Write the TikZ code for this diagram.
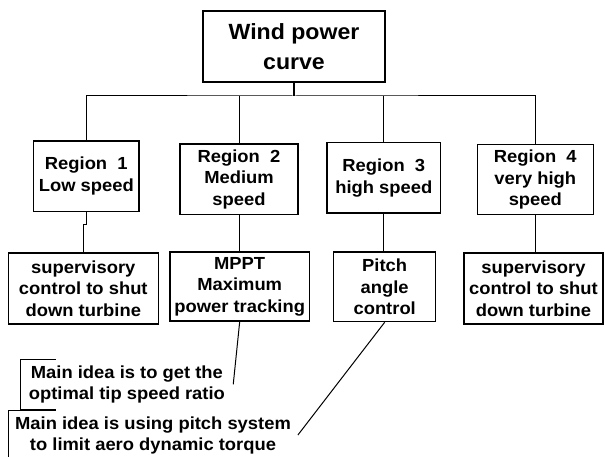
\documentclass[tikz,border=0pt]{standalone}
\usepackage{fontspec}
\setmainfont{Liberation Sans}[FakeStretch=1.05]
\begin{document}
\begin{tikzpicture}[x=1pt,y=-1pt,
  box/.style={draw, line width=1.2pt, inner sep=0pt, align=center,
    font=\fontsize{17.5}{21.5}\selectfont\bfseries},
  note/.style={inner sep=0pt, align=center,
    font=\fontsize{17.5}{21}\selectfont\bfseries},
  conn/.style={line width=1pt}]
\useasboundingbox (0,0) rectangle (605,457);
% top
\node[box, minimum width=182pt, minimum height=71pt,
  font=\fontsize{22}{29.7}\selectfont\bfseries] (top) at (294,46.5) {Wind power\\curve};
% regions
\node[box, minimum width=105.3pt, minimum height=70.3pt] (r1) at (86.3,176.2) {Region\ \ 1\\Low speed};
\node[box, minimum width=118pt, minimum height=70.7pt] (r2) at (239,179.3) {Region\ \ 2\\Medium\\speed};
\node[box, minimum width=113.7pt, minimum height=70.3pt] (r3) at (383.8,177.8) {Region\ \ 3\\high speed};
\node[box, minimum width=116pt, minimum height=70.4pt] (r4) at (535.3,179.5) {Region\ \ 4\\very high\\speed};
% actions
\node[box, minimum width=150pt, minimum height=71pt] (b1) at (83.3,288.5) {supervisory\\control to shut\\down turbine};
\node[box, minimum width=139.3pt, minimum height=69pt] (b2) at (239.7,286.5) {MPPT\\Maximum\\power tracking};
\node[box, minimum width=102pt, minimum height=69.7pt] (b3) at (384.7,286.8) {Pitch\\angle\\control};
\node[box, minimum width=139pt, minimum height=71pt] (b4) at (533.5,288.5) {supervisory\\control to shut\\down turbine};
% notes
\node[note, minimum width=212.3pt, minimum height=50pt] (a1) at (126.9,384.3) {Main idea is to get the\\optimal tip speed ratio};
\node[note, minimum width=289.4pt, minimum height=48.6pt] (a2) at (153,435) {Main idea is using pitch system\\to limit aero dynamic torque};
% tree connectors
\coordinate (j) at (294,96);
\draw[line width=1.8pt] (top.south) -- (j);
\draw[conn] (r1.north) |- (j) -| (r4.north);
\draw[conn] (r2.north) -- (r2.north |- j);
\draw[conn] (r3.north) -- (r3.north |- j);
\coordinate (k1) at (86.3,224.7);
\draw[conn] (r1.south) -- (k1) -| (b1.north);
\draw[conn] (r2.south) -- (r2.south |- b2.north);
\draw[conn] (r3.south) -- (r3.south |- b3.north);
\draw[conn] (r4.south) -- (r4.south |- b4.north);
% note connectors
\draw[conn] (b2.south) -- (a1.east);
\draw[conn] (b3.south) -- (a2.east);
% brackets
\draw[line width=1.2pt] ([xshift=35.3pt]a1.north west) -- (a1.north west) -- (a1.south west) -- ([xshift=35.3pt]a1.south west);
\draw[line width=1.2pt] ([xshift=47.7pt]a2.north west) -- (a2.north west) -- (a2.south west);
\end{tikzpicture}
\end{document}
